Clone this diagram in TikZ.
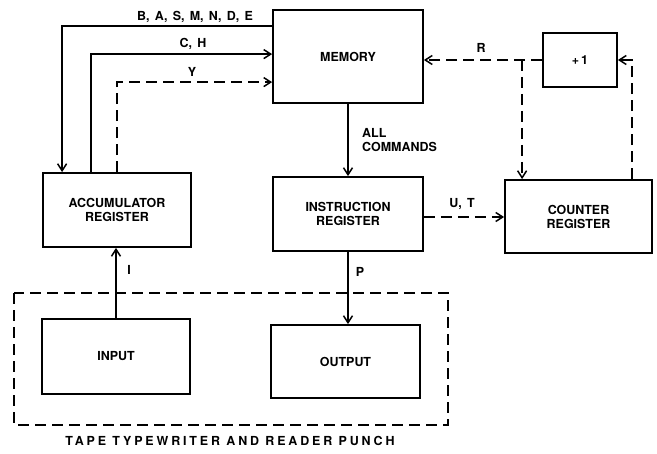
\documentclass[tikz,border=0pt]{standalone}
\usepackage{fontspec}
\setmainfont{TeX Gyre Heros}
\usetikzlibrary{arrows.meta,calc}
\newcommand{\boxfont}{\fontsize{12.5}{14}\bfseries\selectfont}
\newcommand{\lblfont}{\fontsize{12.5}{14}\bfseries\selectfont\spaceskip=5.3pt plus 1pt\relax}
\begin{document}
\begin{tikzpicture}[x=1bp,y=-1bp,
  every node/.style={font=\boxfont, inner sep=0pt},
  blk/.style={draw, line width=1.8bp, rectangle, align=center},
  conn/.style={line width=1.8bp},
  arr/.style={conn, -{Straight Barb[length=7bp,width=9bp,line width=1.5bp]}},
  dsh/.style={dash pattern=on 11bp off 6bp},
  lbl/.style={font=\lblfont}]
\useasboundingbox (0,0) rectangle (657,454);
\node[blk, minimum width=150bp, minimum height=93bp] (mem) at (348,56.5) {MEMORY};
\node[blk, minimum width=148bp, minimum height=74bp] (acc) at (117,210) {ACCUMULATOR\\REGISTER};
\node[blk, minimum width=150bp, minimum height=74bp] (ins) at (348,214) {INSTRUCTION\\REGISTER};
\node[blk, minimum width=147bp, minimum height=73bp] (cnt) at (578.5,216.5) {COUNTER\\REGISTER};
\node[blk, minimum width=74bp, minimum height=54bp] (plus) at (580,60) {+\,1};
\node[blk, minimum width=148bp, minimum height=75bp] (inp) at (116,356.5) {INPUT};
\node[blk, minimum width=149bp, minimum height=73bp] (out) at (345.5,361.5) {OUTPUT};
\draw[conn, dsh] (14,293) rectangle (448,425);
\node (cap) at (230,441) {\addfontfeature{LetterSpace=23}\selectfont TAPE TYPEWRITER AND READER PUNCH};
% memory to accumulator
\draw[arr] ($(mem.north west)+(0,17)$) -| ($(acc.north west)+(20,0)$);
\draw[arr] ($(acc.north west)+(49,0)$) |- ($(mem.north west)+(0,45)$);
\draw[arr, dsh] ($(acc.north west)+(75,0)$) |- ($(mem.north west)+(0,73)$);
\node[lbl] (l1) at (195,17) {B, A, S, M, N, D, E};
\node[lbl] (l2) at (193,44) {C, H};
\node[lbl] (l3) at (192,72) {Y};
% +1 loop
\coordinate (br) at ($(plus.west)+(-20,0)$);
\draw[arr, dsh] (plus.west) -- (plus.west -| mem.east);
\draw[arr, dsh] (br) -- (br |- cnt.north);
\draw[arr, dsh] ($(cnt.north west)+(128,0)$) |- (plus.east);
\node[lbl] (lr) at (481,48) {R};
% memory to instruction
\draw[arr] (mem.south) -- (mem.south |- ins.north);
\node[lbl, anchor=west, align=left] (lac) at (362,140) {ALL\\COMMANDS};
% instruction to counter
\coordinate (ut) at ($(ins.east)+(0,3)$);
\draw[arr, dsh] (ut) -- (ut -| cnt.west);
\node[lbl] (lut) at (462,204) {U, T};
% instruction to output
\draw[arr] (ins.south) -- (ins.south |- out.north);
\node[lbl] (lp) at (360,272) {P};
% input to accumulator
\draw[arr] (inp.north) -- (inp.north |- acc.south);
\node[lbl] (li) at (129,270) {I};
\end{tikzpicture}
\end{document}
